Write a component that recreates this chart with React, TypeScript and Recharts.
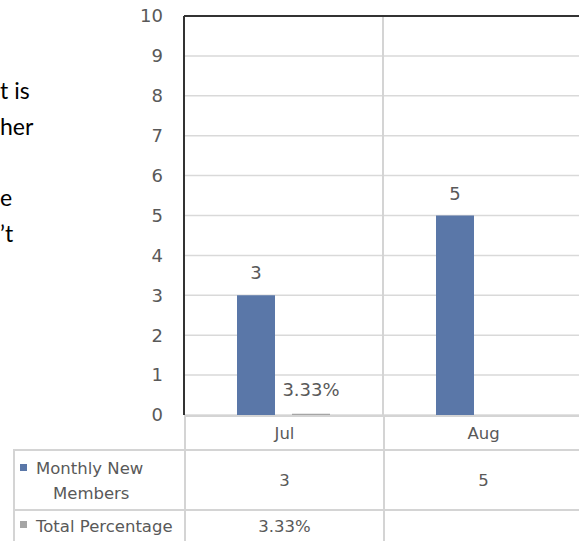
import React from "react";
import {
  BarChart,
  Bar,
  XAxis,
  YAxis,
  CartesianGrid,
  ReferenceLine,
  LabelList,
} from "recharts";

// #region Chart data
const months = ["Jul", "Aug"];
const monthlyNewMembers = [3, 5];
const totalPercentage: (number | null)[] = [0.0333, null];
const yTicks = [0, 1, 2, 3, 4, 5, 6, 7, 8, 9, 10];
const seriesNames = ["Monthly New Members", "Total Percentage"];
const seriesColors = ["#5a77a8", "#a5a5a5"];
// cropped fragments of the document text beside the chart
const sideText = ["t is", "her", "", "e", "\u2019t"];
// #endregion

const data = months.map((month, i) => ({
  month,
  members: monthlyNewMembers[i],
  pct: totalPercentage[i],
}));

const fmtPct = (v: any) =>
  v === null || v === undefined || v === "" ? "" : `${(Number(v) * 100).toFixed(2)}%`;

const grey = "#595959";
const lineGrey = "#d4d4d4";
const tableFont = { fontFamily: "DejaVu Sans", fontSize: 16.5, color: grey };

const PLOT_LEFT = 184;
const PLOT_BOTTOM = 415;
const COL_W = 199;
const TABLE_LEFT = 13;

const Key = ({ color }: { color: string }) => (
  <span
    style={{
      display: "inline-block",
      width: 7,
      height: 7,
      background: color,
      marginRight: 9,
      verticalAlign: "middle",
      position: "relative",
      top: -2,
    }}
  />
);

const cell = (left: number, top: number, width: number, height: number): React.CSSProperties => ({
  position: "absolute",
  left,
  top,
  width,
  height,
  boxSizing: "border-box",
  borderLeft: `2px solid ${lineGrey}`,
  borderTop: `2px solid ${lineGrey}`,
  background: "#fff",
  display: "flex",
  alignItems: "center",
  justifyContent: "center",
  ...tableFont,
});

const MembersChart = () => {
  return (
    <div
      style={{
        position: "absolute",
        left: 0,
        top: 0,
        width: 579,
        height: 541,
        overflow: "hidden",
        background: "#fff",
      }}
    >
      <div
        style={{
          position: "absolute",
          left: 0,
          top: 73,
          fontFamily: "Lato",
          fontSize: 23,
          lineHeight: "35.8px",
          color: "#000",
          whiteSpace: "pre",
        }}
      >
        {sideText.map((t, i) => (
          <div key={i}>{t || "\u00a0"}</div>
        ))}
      </div>

      <div style={{ position: "absolute", left: 0, top: 0 }}>
        <BarChart
          width={PLOT_LEFT + COL_W * months.length}
          height={PLOT_BOTTOM + 20}
          data={data}
          margin={{ top: 16, right: 0, left: 0, bottom: 20 }}
          barSize={38}
          barGap={17}
        >
          <CartesianGrid vertical={false} stroke="#d9d9d9" strokeWidth={1.5} />
          {months.map((m) => (
            <ReferenceLine key={m} x={m} position="end" stroke={lineGrey} strokeWidth={2} />
          ))}
          <ReferenceLine y={10} stroke="#333" strokeWidth={2} />
          <XAxis dataKey="month" hide />
          <YAxis
            width={PLOT_LEFT}
            domain={[0, 10]}
            ticks={yTicks}
            interval={0}
            tickLine={false}
            tickSize={0}
            tickMargin={21}
            axisLine={{ stroke: "#333", strokeWidth: 2 }}
            tick={{ fill: grey, fontSize: 18, fontFamily: "DejaVu Sans" }}
          />
          <Bar dataKey="members" name={seriesNames[0]} fill={seriesColors[0]} isAnimationActive={false}>
            <LabelList
              dataKey="members"
              position="top"
              offset={16}
              fill={grey}
              fontSize={18}
              fontFamily="DejaVu Sans"
            />
          </Bar>
          <Bar dataKey="pct" name={seriesNames[1]} fill={seriesColors[1]} isAnimationActive={false}>
            <LabelList
              dataKey="pct"
              position="top"
              offset={18}
              fill={grey}
              fontSize={18}
              fontFamily="DejaVu Sans"
              formatter={fmtPct}
            />
          </Bar>
        </BarChart>
      </div>

      {/* data table under the plot */}
      {months.map((m, i) => (
        <div key={`ax-${m}`} style={cell(PLOT_LEFT + i * COL_W, PLOT_BOTTOM, COL_W, 35)}>
          {m}
        </div>
      ))}

      <div
        style={{
          ...cell(TABLE_LEFT, 449, PLOT_LEFT - TABLE_LEFT, 61),
          display: "block",
          lineHeight: "25px",
          paddingTop: 5,
        }}
      >
        <div style={{ paddingLeft: 5 }}>
          <Key color={seriesColors[0]} />
          Monthly New
        </div>
        <div style={{ paddingLeft: 38 }}>Members</div>
      </div>
      {monthlyNewMembers.map((v, i) => (
        <div key={`m-${i}`} style={cell(PLOT_LEFT + i * COL_W, 449, COL_W, 61)}>
          {v}
        </div>
      ))}

      <div
        style={{
          ...cell(TABLE_LEFT, 509, PLOT_LEFT - TABLE_LEFT, 33),
          justifyContent: "flex-start",
          paddingLeft: 5,
        }}
      >
        <Key color={seriesColors[1]} />
        {seriesNames[1]}
      </div>
      {totalPercentage.map((v, i) => (
        <div key={`p-${i}`} style={cell(PLOT_LEFT + i * COL_W, 509, COL_W, 33)}>
          {fmtPct(v)}
        </div>
      ))}
    </div>
  );
};

export default function App() {
  return <MembersChart />;
}
